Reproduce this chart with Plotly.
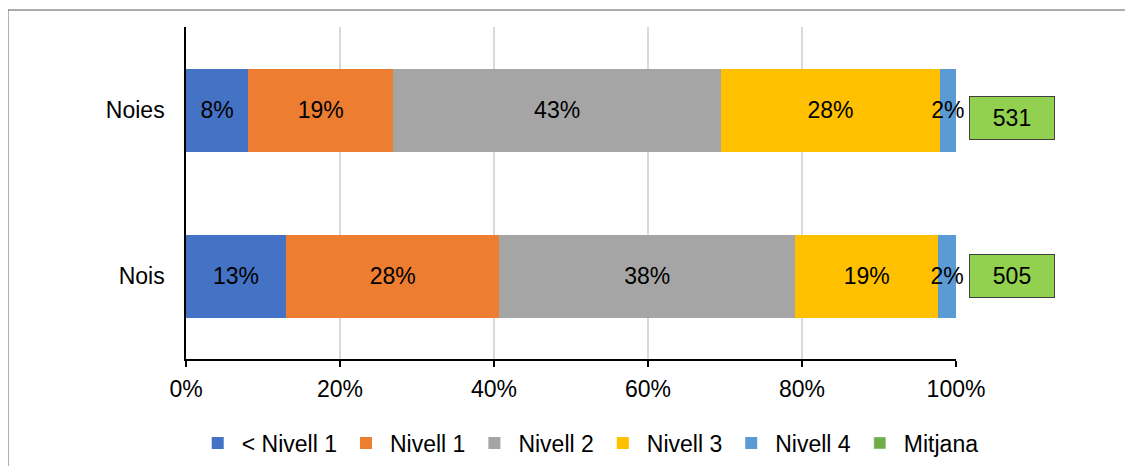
import plotly.graph_objects as go

categories = ["Noies", "Nois"]
series_names = ["< Nivell 1", "Nivell 1", "Nivell 2", "Nivell 3", "Nivell 4"]
noies_vals = [8.1, 18.8, 42.6, 28.4, 2.1]
nois_vals = [13.0, 27.7, 38.4, 18.6, 2.3]
mitjana_name = "Mitjana"
mitjana_vals = [531, 505]
colors = ["#4472C4", "#ED7D31", "#A5A5A5", "#FFC000", "#5B9BD5"]
mitjana_legend_color = "#70AD47"
mitjana_box_color = "#92D050"
x_ticks = [0, 20, 40, 60, 80, 100]

FONT = "Liberation Sans, Arial, sans-serif"
FS = 23

fig = go.Figure()
for i, name in enumerate(series_names):
    vals = [noies_vals[i], nois_vals[i]]
    fig.add_trace(go.Bar(
        y=categories, x=[v / 100 for v in vals], name=name, orientation="h",
        marker=dict(color=colors[i], line=dict(width=0)),
        text=[f"{round(v)}%" for v in vals],
        textposition="inside", insidetextanchor="middle", constraintext="none",
        textangle=0, cliponaxis=False,
        textfont=dict(family=FONT, size=FS, color="#000000"),
        hoverinfo="skip",
    ))

# legend-only entry for Mitjana
fig.add_trace(go.Bar(
    y=[None], x=[None], name=mitjana_name, orientation="h",
    marker=dict(color=mitjana_legend_color), showlegend=True,
))

yshifts = [-8, 0]
for cat, m, ys in zip(categories, mitjana_vals, yshifts):
    fig.add_annotation(
        x=1.0727, xref="paper", y=cat, yref="y", yshift=ys,
        text=str(m), showarrow=False,
        font=dict(family=FONT, size=FS, color="#000000"),
        bgcolor=mitjana_box_color, bordercolor="#404040", borderwidth=1,
        borderpad=0, width=84, height=42, xanchor="center", yanchor="middle",
    )

# outer chart frame
fig.add_shape(type="rect", xref="paper", yref="paper",
              x0=-0.2312, x1=1.4, y0=-0.6, y1=1.0512,
              line=dict(color="#595959", width=1), fillcolor="rgba(0,0,0,0)", layer="below")

fig.update_layout(
    width=1125, height=458,
    margin=dict(l=178, r=177, t=19, b=107, autoexpand=False),
    paper_bgcolor="white", plot_bgcolor="white",
    barmode="stack", bargap=0.5,
    font=dict(family=FONT, size=FS, color="#000000"),
    showlegend=True,
    legend=dict(orientation="h", xref="paper", x=1.036, xanchor="right",
                yref="paper", y=-0.253, yanchor="middle",
                font=dict(family=FONT, size=FS), itemwidth=38, traceorder="normal",
                bgcolor="rgba(0,0,0,0)"),
    xaxis=dict(range=[0, 1], tickvals=[t / 100 for t in x_ticks],
               ticktext=[f"{t}%" for t in x_ticks], automargin=False,
               showgrid=True, gridcolor="#D9D9D9", gridwidth=1.5, zeroline=False,
               showline=True, linecolor="#000000", linewidth=1.5,
               ticks="outside", ticklen=6, tickcolor="#000000", tickwidth=1.5,
               ticklabelstandoff=3,
               tickfont=dict(family=FONT, size=FS)),
    yaxis=dict(categoryorder="array", categoryarray=["Nois", "Noies"], automargin=False,
               showgrid=False, zeroline=False, showline=True,
               linecolor="#000000", linewidth=1.5, ticks="", ticklabelstandoff=15,
               tickfont=dict(family=FONT, size=FS)),
    uniformtext=dict(mode=False),
)

fig.write_html("out.html")
